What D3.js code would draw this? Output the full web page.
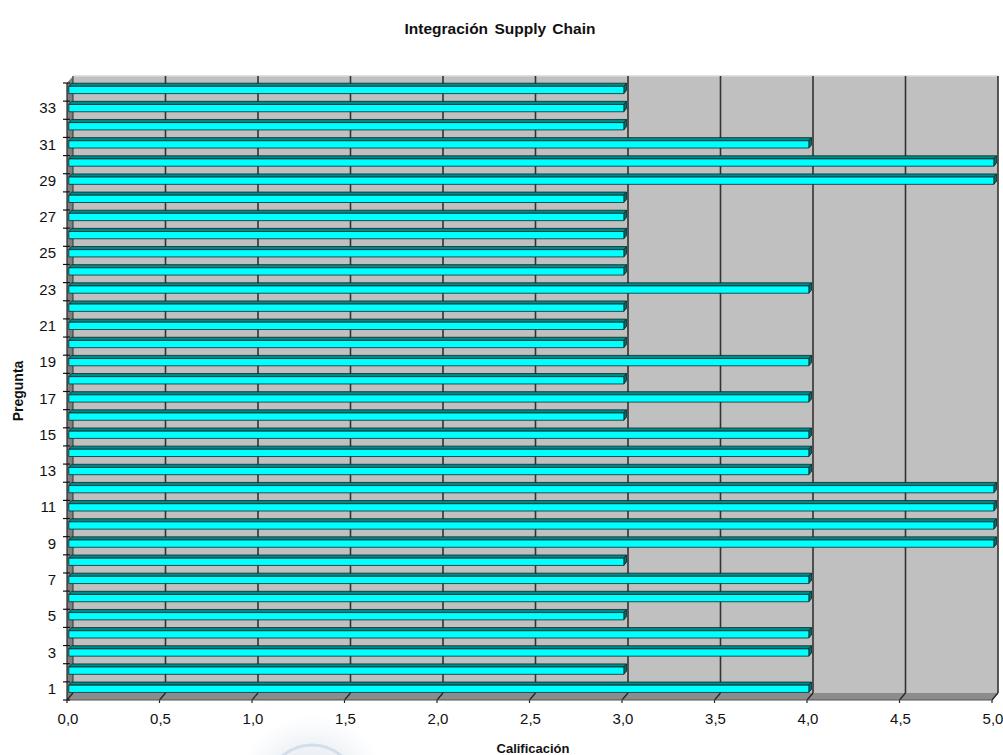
<!DOCTYPE html>
<html><head><meta charset="utf-8">
<script src="https://cdn.jsdelivr.net/npm/d3@7"></script>
<style>body{margin:0;background:#fff}svg{display:block;font-family:"Liberation Sans",Arial,sans-serif}</style>
</head><body><svg id="c" width="1003" height="755"></svg>
<script>
const title = "Integración Supply Chain";
const xTitle = "Calificación";
const yTitle = "Pregunta";
const categories = d3.range(1, 35).map(String);
const values = [4,3,4,4,3,4,4,3,5,5,5,5,4,4,4,3,4,3,4,3,3,3,4,3,3,3,3,3,5,5,4,3,3,3];
const xTicks = [0,0.5,1,1.5,2,2.5,3,3.5,4,4.5,5];
const yLabels = categories.filter((d,i)=>i%2===0);

const svg = d3.select("#c");
const DX = 6, DY = -7;
const x = d3.scaleLinear().domain([0,5]).range([67,992]);
const y = d3.scaleBand().domain(categories).range([700,83]).paddingInner(0.6).paddingOuter(0.3);
const step = y.step();
const P = (xv, yp, d) => [x(xv) + d*DX, yp + d*DY];
const fmt = v => d3.format(".1f")(v).replace(".", ",");

// watermark
const defs = svg.append("defs");
const rg = defs.append("radialGradient").attr("id","wm");
rg.append("stop").attr("offset","0%").attr("stop-color","#dfe8f2");
rg.append("stop").attr("offset","55%").attr("stop-color","#eef2f6");
rg.append("stop").attr("offset","100%").attr("stop-color","#ffffff");
svg.append("circle").attr("cx",312).attr("cy",790).attr("r",75).attr("fill","url(#wm)");
svg.append("circle").attr("cx",312).attr("cy",790).attr("r",45).attr("fill","none").attr("stroke","#d2deea").attr("stroke-width",3);

const yTop = 83, yBot = 700;
// back wall
svg.append("polygon").attr("points",[P(0,yTop,1),P(5,yTop,1),P(5,yBot,1),P(0,yBot,1)].join(" "))
  .attr("fill","#c0c0c0");
// left wall
svg.append("polygon").attr("points",[P(0,yTop,0),P(0,yTop,1),P(0,yBot,1),P(0,yBot,0)].join(" "))
  .attr("fill","#808080");
// floor
svg.append("polygon").attr("points",[P(0,yBot,0),P(5,yBot,0),P(5,yBot,1),P(0,yBot,1)].join(" "))
  .attr("fill","#8c8c8c");
// top edge highlight
svg.append("line").attr("x1",P(0,yTop,1)[0]).attr("y1",P(0,yTop,1)[1]).attr("x2",P(5,yTop,1)[0]).attr("y2",P(5,yTop,1)[1])
  .attr("stroke","#d8d8d8").attr("stroke-width",1.5);

// gridlines on back wall + floor
xTicks.forEach(t => {
  const a = P(t,yTop,1), b = P(t,yBot,1), c = P(t,yBot,0);
  svg.append("line").attr("x1",a[0]).attr("y1",a[1]).attr("x2",b[0]).attr("y2",b[1])
    .attr("stroke","#333").attr("stroke-width",t===0?1:1.6);
  svg.append("line").attr("x1",b[0]).attr("y1",b[1]).attr("x2",c[0]).attr("y2",c[1])
    .attr("stroke","#222").attr("stroke-width",1.2);
  svg.append("line").attr("x1",c[0]).attr("y1",c[1]).attr("x2",c[0]).attr("y2",c[1]+3)
    .attr("stroke","#222").attr("stroke-width",1.2);
  svg.append("text").attr("x",c[0]+1).attr("y",724).attr("text-anchor","middle")
    .attr("font-size",15).attr("fill","#111").text(fmt(t));
});

// axis lines
svg.append("line").attr("x1",x(0)).attr("y1",yTop).attr("x2",x(0)).attr("y2",yBot).attr("stroke","#222").attr("stroke-width",1.2);
svg.append("line").attr("x1",x(0)).attr("y1",yBot).attr("x2",x(5)).attr("y2",yBot).attr("stroke","#555").attr("stroke-width",1);

// y ticks at band boundaries
d3.range(0, categories.length+1).forEach(k => {
  const yy = yBot - k*step;
  svg.append("line").attr("x1",x(0)-4).attr("y1",yy).attr("x2",x(0)+3).attr("y2",yy)
    .attr("stroke","#111").attr("stroke-width",1.2);
});
yLabels.forEach(c => {
  svg.append("text").attr("x",56).attr("y",y(c)+y.bandwidth()/2+3).attr("text-anchor","end")
    .attr("font-size",15).attr("fill","#111").text(c);
});

// bars
const d1 = 0.3, d2 = 0.75;
const bars = svg.append("g");
categories.forEach((c,i) => {
  const v = values[i];
  const t = y(c), b = y(c) + y.bandwidth();
  const g = bars.append("g").attr("stroke","#0a2a2a").attr("stroke-width",0.8).attr("stroke-linejoin","round");
  g.append("polygon").attr("points",[P(0,t,d1),P(v,t,d1),P(v,t,d2),P(0,t,d2)].join(" ")).attr("fill","#008b8b");
  g.append("polygon").attr("points",[P(v,t,d1),P(v,b,d1),P(v,b,d2),P(v,t,d2)].join(" ")).attr("fill","#007070");
  g.append("polygon").attr("points",[P(0,t,d1),P(v,t,d1),P(v,b,d1),P(0,b,d1)].join(" ")).attr("fill","#00ffff");
});

// titles
svg.append("text").attr("x",500).attr("y",34).attr("text-anchor","middle").attr("font-size",15.5)
  .attr("font-weight","bold").attr("word-spacing",2).attr("fill","#111").text(title);
svg.append("text").attr("x",533).attr("y",753).attr("text-anchor","middle").attr("font-size",13)
  .attr("font-weight","bold").attr("fill","#111").text(xTitle);
svg.append("text").attr("transform","translate(23,391) rotate(-90)").attr("text-anchor","middle").attr("font-size",14)
  .attr("font-weight","bold").attr("fill","#111").text(yTitle);
</script></body></html>
